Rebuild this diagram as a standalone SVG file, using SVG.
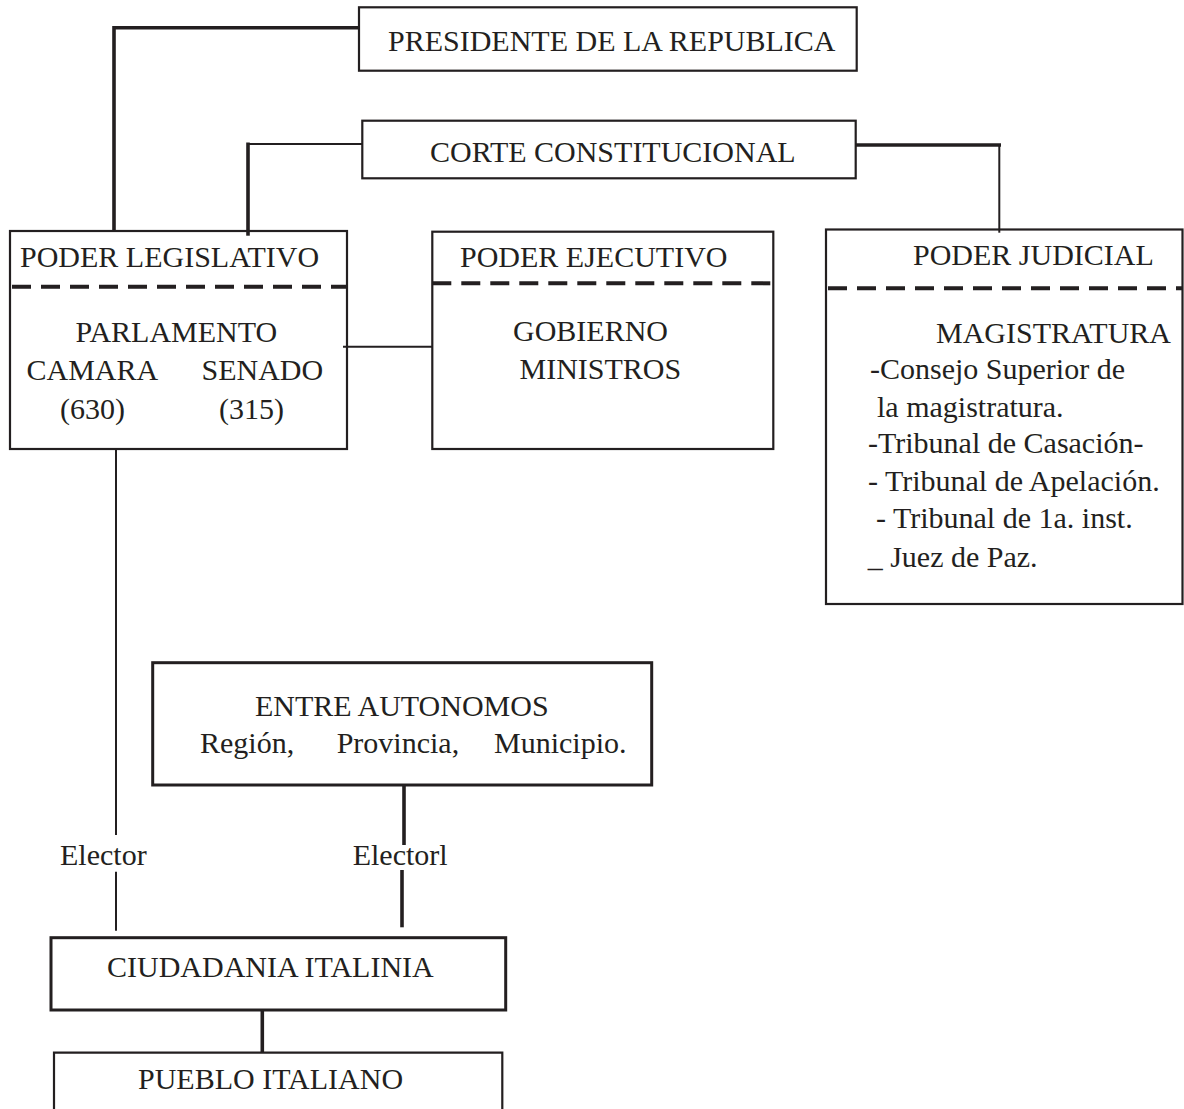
<svg xmlns="http://www.w3.org/2000/svg" width="1184" height="1109" viewBox="0 0 1184 1109">
<style>
  .box { fill: none; stroke: #231f20; stroke-width: 2.2; }
  .thickbox { fill: none; stroke: #231f20; stroke-width: 3; }
  .dash { stroke: #231f20; stroke-width: 4; stroke-dasharray: 19 10; fill: none; }
  .thin { stroke: #231f20; stroke-width: 2; fill: none; }
  .thick { stroke: #231f20; stroke-width: 3.6; fill: none; }
  text { font-family: "Liberation Serif", "Times New Roman", serif; font-size: 30px; fill: #231f20; }
</style>
<rect x="0" y="0" width="1184" height="1109" fill="#ffffff"/>
<g id="connectors">
  <polyline class="thick" points="114,231 114,27.7 359,27.7"/>
  <line class="thin" x1="249" y1="144" x2="362" y2="144"/>
  <line class="thick" x1="248" y1="142.5" x2="248" y2="235.7"/>
  <line class="thick" x1="856" y1="145" x2="1001" y2="145"/>
  <line class="thin" x1="999.3" y1="145" x2="999.3" y2="232.7"/>
  <line class="thin" x1="343" y1="346.7" x2="432.3" y2="346.7"/>
  <line class="thin" x1="116" y1="449" x2="116" y2="835"/>
  <line class="thin" x1="116" y1="871.7" x2="116" y2="930.7"/>
  <line class="thick" x1="404" y1="785" x2="404" y2="845"/>
  <line class="thick" x1="402" y1="870" x2="402" y2="927.3"/>
  <line class="thick" x1="262.3" y1="1010" x2="262.3" y2="1052.7"/>
  <text x="60" y="865">Elector</text>
  <text x="352.7" y="865">Electorl</text>
</g>
<g id="presidente">
  <rect class="box" x="359" y="7.3" width="497.7" height="63.4"/>
  <text x="388" y="50.5">PRESIDENTE DE LA REPUBLICA</text>
</g>
<g id="corte">
  <rect class="box" x="362.3" y="120.7" width="493.4" height="57.6"/>
  <text x="430" y="162.3">CORTE CONSTITUCIONAL</text>
</g>
<g id="legislativo">
  <rect class="box" x="10" y="231" width="337" height="218"/>
  <line class="dash" x1="12" y1="286.7" x2="347" y2="286.7"/>
  <text x="20" y="267">PODER LEGISLATIVO</text>
  <text x="75.5" y="341.7">PARLAMENTO</text>
  <text x="26.5" y="380">CAMARA</text>
  <text x="201.5" y="380">SENADO</text>
  <text x="60" y="419">(630)</text>
  <text x="219" y="419">(315)</text>
</g>
<g id="ejecutivo">
  <rect class="box" x="432.3" y="231.7" width="341" height="217.3"/>
  <line class="dash" x1="432.3" y1="283.3" x2="773.3" y2="283.3"/>
  <text x="460" y="266.7">PODER EJECUTIVO</text>
  <text x="513" y="341">GOBIERNO</text>
  <text x="519.5" y="379">MINISTROS</text>
</g>
<g id="judicial">
  <rect class="box" x="826" y="229.5" width="356.5" height="374.5"/>
  <line class="dash" x1="828" y1="288.3" x2="1182.5" y2="288.3"/>
  <text x="913" y="265">PODER JUDICIAL</text>
  <text x="936" y="342.7">MAGISTRATURA</text>
  <text x="870" y="379.3">-Consejo Superior de</text>
  <text x="877" y="416.7">la magistratura.</text>
  <text x="868" y="453.3">-Tribunal de Casación-</text>
  <text x="868" y="490.7">- Tribunal de Apelación.</text>
  <text x="876" y="528.3">- Tribunal de 1a. inst.</text>
  <text x="867.7" y="566.7">_ Juez de Paz.</text>
</g>
<g id="entes">
  <rect class="thickbox" x="152.7" y="662.7" width="499" height="122.3"/>
  <text x="255" y="716">ENTRE AUTONOMOS</text>
  <text x="200" y="753.3">Región,</text>
  <text x="336.7" y="753.3">Provincia,</text>
  <text x="494" y="753.3">Municipio.</text>
</g>
<g id="ciudadania">
  <rect class="thickbox" x="51" y="937.7" width="454.7" height="72.3"/>
  <text x="107" y="977.3">CIUDADANIA ITALINIA</text>
</g>
<g id="pueblo">
  <path class="box" d="M54,1109 V1052.7 H502.3 V1109"/>
  <text x="138" y="1089.3">PUEBLO ITALIANO</text>
</g>
</svg>
